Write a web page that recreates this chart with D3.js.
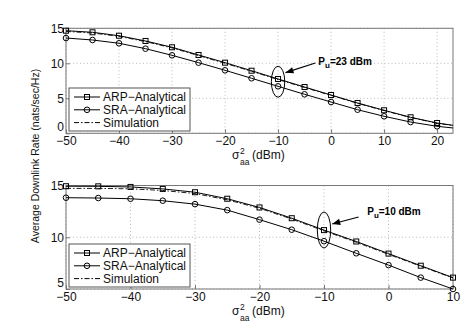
<!DOCTYPE html>
<html>
<head>
<meta charset="utf-8">
<script src="https://d3js.org/d3.v7.min.js"></script>
<style>
  body { margin: 0; background: #fff; }
  svg { display: block; font-family: "Liberation Sans", Arial, sans-serif; }
  .tick text { font-size: 12px; fill: #111; }
</style>
</head>
<body>
<div id="main"></div>
<script>
// top panel: Pu = 23 dBm
const xTop = [-50, -45, -40, -35, -30, -25, -20, -15, -10, -5, 0, 5, 10, 15, 20, 23];
const arpTop = [14.66, 14.43, 13.94, 13.19, 12.29, 11.19, 10.09, 8.94, 7.76, 6.61, 5.47, 4.33, 3.29, 2.29, 1.47, 1.14];
const sraTop = [13.61, 13.33, 12.86, 12.09, 11.14, 10.09, 9.0, 7.86, 6.71, 5.57, 4.47, 3.37, 2.43, 1.61, 1.0, 0.76];
const simTop = [14.55, 14.33, 13.85, 13.1, 12.2, 11.1, 10.0, 8.86, 7.68, 6.54, 5.41, 4.28, 3.24, 2.25, 1.44, 1.11];
const xTicksTop = [-50, -40, -30, -20, -10, 0, 10, 20];
const yTicksTop = [0, 5, 10, 15];

// bottom panel: Pu = 10 dBm
const xBot = [-50, -45, -40, -35, -30, -25, -20, -15, -10, -5, 0, 5, 10];
const arpBot = [14.93, 14.92, 14.86, 14.67, 14.35, 13.72, 12.88, 11.84, 10.69, 9.59, 8.42, 7.25, 6.1];
const sraBot = [13.82, 13.79, 13.72, 13.53, 13.2, 12.62, 11.7, 10.73, 9.62, 8.45, 7.31, 6.1, 5.0];
const simBot = [14.72, 14.72, 14.68, 14.52, 14.22, 13.62, 12.8, 11.76, 10.62, 9.52, 8.35, 7.2, 6.06];
const xTicksBot = [-50, -40, -30, -20, -10, 0, 10];
const yTicksBot = [5, 10, 15];

const legendLabels = ['ARP\u2212Analytical', 'SRA\u2212Analytical', 'Simulation'];

const width = 463;
const height = 327;

const svg = d3.select('#main')
  .append('svg')
  .attr('width', width)
  .attr('height', height);

const fmt = d => String(d).replace('-', '\u2212');

function drawPanel(cfg) {
  const x = d3.scaleLinear().domain(cfg.xDomain).range([66, 453]);
  const y = d3.scaleLinear().domain(cfg.yDomain).range([cfg.bottom, cfg.top]);
  const g = svg.append('g');

  // dotted grid
  g.selectAll('.gx').data(cfg.xTicks).enter().append('line')
    .attr('x1', d => x(d)).attr('x2', d => x(d))
    .attr('y1', cfg.top).attr('y2', cfg.bottom)
    .attr('stroke', '#aaa').attr('stroke-width', 0.8).attr('stroke-dasharray', '1,2.5');
  g.selectAll('.gy').data(cfg.yTicks).enter().append('line')
    .attr('x1', 66).attr('x2', 453)
    .attr('y1', d => y(d)).attr('y2', d => y(d))
    .attr('stroke', '#aaa').attr('stroke-width', 0.8).attr('stroke-dasharray', '1,2.5');

  const xAxis = d3.axisBottom(x).tickValues(cfg.xTicks).tickFormat(fmt).tickSize(-4).tickPadding(2);
  const yAxis = d3.axisLeft(y).tickValues(cfg.yTicks).tickFormat(fmt).tickSize(-4).tickPadding(2);

  const gx = g.append('g').attr('transform', `translate(0,${cfg.bottom})`).call(xAxis);
  const gy = g.append('g').attr('transform', 'translate(66,0)').call(yAxis);
  [gx, gy].forEach(a => {
    a.select('.domain').remove();
    a.selectAll('.tick line').attr('stroke', '#777');
  });
  gx.selectAll('.tick text').attr('dy', '0.85em');
  // lowest y label sits just above the corner x label
  gy.selectAll('.tick text').filter(d => d === cfg.yDomain[0]).attr('dy', '-0.22em');

  // box
  g.append('rect')
    .attr('x', 66).attr('y', cfg.top)
    .attr('width', 453 - 66).attr('height', cfg.bottom - cfg.top)
    .attr('fill', 'none').attr('stroke', '#777').attr('stroke-width', 1);

  const line = d3.line().x(d => x(d[0])).y(d => y(d[1]));
  const zip = (xs, ys) => xs.map((v, i) => [v, ys[i]]);

  g.append('path').datum(zip(cfg.xs, cfg.sim))
    .attr('d', line).attr('fill', 'none')
    .attr('stroke', '#222').attr('stroke-width', 1).attr('stroke-dasharray', '5,2,1.5,2');
  g.append('path').datum(zip(cfg.xs, cfg.arp))
    .attr('d', line).attr('fill', 'none').attr('stroke', '#000').attr('stroke-width', 1);
  g.append('path').datum(zip(cfg.xs, cfg.sra))
    .attr('d', line).attr('fill', 'none').attr('stroke', '#000').attr('stroke-width', 1);

  const onGrid = d => d[0] % 5 === 0;
  g.selectAll('.sq').data(zip(cfg.xs, cfg.arp).filter(onGrid)).enter().append('rect')
    .attr('x', d => x(d[0]) - 2.5).attr('y', d => y(d[1]) - 2.5)
    .attr('width', 5).attr('height', 5)
    .attr('fill', 'none').attr('stroke', '#000').attr('stroke-width', 1);
  g.selectAll('.ci').data(zip(cfg.xs, cfg.sra).filter(onGrid)).enter().append('circle')
    .attr('cx', d => x(d[0])).attr('cy', d => y(d[1])).attr('r', 2.8)
    .attr('fill', 'none').attr('stroke', '#000').attr('stroke-width', 1);

  // legend
  const lg = g.append('g').attr('transform', `translate(69,${cfg.legendTop})`);
  lg.append('rect').attr('width', 121).attr('height', 43)
    .attr('fill', '#fff').attr('stroke', '#555').attr('stroke-width', 1);
  legendLabels.forEach((t, i) => {
    const yy = 9 + i * 12.8;
    lg.append('line').attr('x1', 5).attr('x2', 31).attr('y1', yy).attr('y2', yy)
      .attr('stroke', '#000').attr('stroke-width', 1)
      .attr('stroke-dasharray', i === 2 ? '5,2,1.5,2' : null);
    if (i === 0) {
      lg.append('rect').attr('x', 15.5).attr('y', yy - 2.5).attr('width', 5).attr('height', 5)
        .attr('fill', 'none').attr('stroke', '#000');
    } else if (i === 1) {
      lg.append('circle').attr('cx', 18).attr('cy', yy).attr('r', 2.8)
        .attr('fill', 'none').attr('stroke', '#000');
    }
    lg.append('text').attr('x', 34).attr('y', yy + 4)
      .style('font-size', '12px').attr('fill', '#111').text(t);
  });

  // annotation
  const a = cfg.ann;
  g.append('ellipse')
    .attr('cx', x(a.ex)).attr('cy', y(a.ey))
    .attr('rx', 6.7).attr('ry', a.ry)
    .attr('fill', 'none').attr('stroke', '#000').attr('stroke-width', 1);
  const x1 = x(a.from[0]), y1 = y(a.from[1]), x2 = x(a.to[0]), y2 = y(a.to[1]);
  g.append('line').attr('x1', x1).attr('y1', y1).attr('x2', x2).attr('y2', y2)
    .attr('stroke', '#000').attr('stroke-width', 1.2);
  const ang = Math.atan2(y2 - y1, x2 - x1);
  const head = [[0, 0], [-8, -3.2], [-8, 3.2]].map(p => [
    x2 + p[0] * Math.cos(ang) - p[1] * Math.sin(ang),
    y2 + p[0] * Math.sin(ang) + p[1] * Math.cos(ang)
  ]);
  g.append('polygon').attr('points', head.map(p => p.join(',')).join(' ')).attr('fill', '#000');
  const at = g.append('text').attr('x', x(a.tx)).attr('y', y(a.ty) + 3.5)
    .style('font-size', '10px').style('font-weight', 'bold').attr('fill', '#000');
  at.append('tspan').text('P');
  at.append('tspan').attr('dy', 3).style('font-size', '8px').text('u');
  at.append('tspan').attr('dy', -3).text(a.label);

  // x label: sigma with stacked super/subscript
  const lx = 232, ly = cfg.bottom + 26;
  g.append('text').attr('x', lx).attr('y', ly)
    .style('font-size', '12px').attr('fill', '#111').text('\u03c3');
  g.append('text').attr('x', lx + 8).attr('y', ly - 5)
    .style('font-size', '8.5px').attr('fill', '#111').text('2');
  g.append('text').attr('x', lx + 8).attr('y', ly + 6)
    .style('font-size', '8.5px').attr('fill', '#111').text('aa');
  g.append('text').attr('x', lx + 20).attr('y', ly)
    .style('font-size', '12px').attr('fill', '#111').text('(dBm)');
}

drawPanel({
  xs: xTop, arp: arpTop, sra: sraTop, sim: simTop,
  xDomain: [-50, 23], yDomain: [0, 15], xTicks: xTicksTop, yTicks: yTicksTop,
  top: 28.3, bottom: 133.3, legendTop: 88,
  ann: { ex: -10, ey: 7.37, ry: 15.5, from: [-2.96, 10.04], to: [-8.6, 8.66], tx: -2.4, ty: 10.3, label: '=23 dBm' }
});

drawPanel({
  xs: xBot, arp: arpBot, sra: sraBot, sim: simBot,
  xDomain: [-50, 10], yDomain: [5, 15], xTicks: xTicksBot, yTicks: yTicksBot,
  top: 185.5, bottom: 289, legendTop: 244,
  ann: { ex: -10, ey: 10.7, ry: 18, from: [-4.64, 11.96], to: [-8.73, 11.28], tx: -3.3, ty: 12.47, label: '=10 dBm' }
});

svg.append('text')
  .attr('transform', 'rotate(-90)')
  .attr('x', -156)
  .attr('y', 39)
  .attr('text-anchor', 'middle')
  .style('font-size', '10.5px')
  .attr('fill', '#111')
  .text('Average Downlink Rate (nats/sec/Hz)');
</script>
</body>
</html>
